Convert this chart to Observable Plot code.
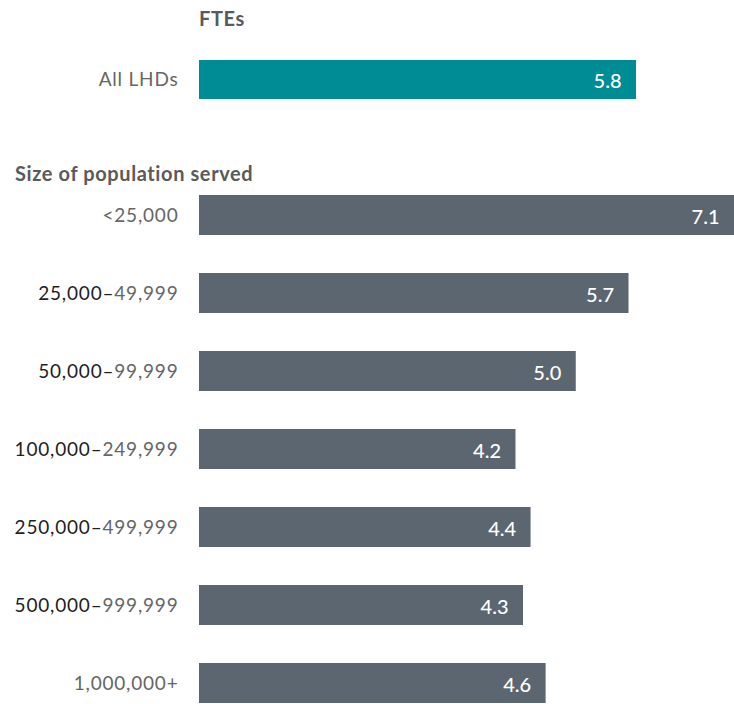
<!DOCTYPE html>
<html>
<head>
<meta charset="utf-8">
<script src="https://cdn.jsdelivr.net/npm/d3@7"></script>
<script src="https://cdn.jsdelivr.net/npm/@observablehq/plot@0.6"></script>
<style>
  body { margin: 0; background: #fff; font-family: Lato, "Open Sans", sans-serif; }
  #chart { width: 734px; position: relative; }
  .hdr { font-weight: 700; font-size: 20px; letter-spacing: 0.6px; color: #5a5a5a; height: 40px; line-height: 40px; white-space: nowrap; }
  svg { display: block; overflow: visible; }
  g[aria-label="y-axis tick label"] text { letter-spacing: 0.8px; }
</style>
</head>
<body>
<div id="chart"></div>
<script>
// ---- data ----
const overallHeader = "FTEs";
const overallCategories = ["All LHDs"];
const overallValues = [5.8];

const sizeHeader = "Size of population served";
const sizeCategories = ["<25,000", "25,000–49,999", "50,000–99,999", "100,000–249,999", "250,000–499,999", "500,000–999,999", "1,000,000+"];
const sizeValues = [7.1, 5.7, 5.0, 4.2, 4.4, 4.3, 4.6];

const xMax = 7.1;

// ---- styles ----
const teal = "#008C95";
const slate = "#5C6670";
const labelGrey = "#666666";
const labelDark = "#1f1f1f";

const overall = overallCategories.map((c, i) => ({group: c, value: overallValues[i]}));
const sizes = sizeCategories.map((c, i) => ({group: c, value: sizeValues[i]}));

function barPlot(data, domain, color, opts) {
  return Plot.plot({
    width: 734,
    height: opts.height,
    marginLeft: 199,
    marginRight: 0,
    marginTop: opts.marginTop,
    marginBottom: opts.marginBottom,
    style: {fontFamily: "Lato, 'Open Sans', sans-serif", fontSize: "19px", background: "white", color: labelGrey},
    x: {domain: [0, xMax], axis: null},
    y: {domain, paddingInner: opts.paddingInner, paddingOuter: 0, label: null},
    marks: [
      Plot.axisY({tickSize: 0, tickPadding: 21, fill: labelGrey, fontSize: 19, label: null}),
      Plot.barX(data, {x: "value", y: "group", fill: color}),
      Plot.text(data, {x: "value", y: "group", text: d => d.value.toFixed(1), textAnchor: "end", dx: -15, dy: 2, fill: "white", fontSize: 20, fontWeight: 500})
    ]
  });
}

function colorRangeLabels(svg) {
  svg.querySelectorAll('g[aria-label="y-axis tick label"] text').forEach(t => {
    const s = t.textContent;
    const k = s.indexOf("–");
    if (k > 0) {
      t.textContent = "";
      const a = document.createElementNS("http://www.w3.org/2000/svg", "tspan");
      a.textContent = s.slice(0, k + 1);
      a.setAttribute("fill", labelDark);
      const b = document.createElementNS("http://www.w3.org/2000/svg", "tspan");
      b.textContent = s.slice(k + 1);
      b.setAttribute("fill", labelGrey);
      t.append(a, b);
    }
  });
}

const chart = document.getElementById("chart");

const h1 = document.createElement("div");
h1.className = "hdr";
h1.style.paddingLeft = "199px";
h1.style.height = "36px";
h1.style.lineHeight = "36px";
h1.textContent = overallHeader;
chart.append(h1);

const p1 = barPlot(overall, overallCategories, teal, {height: 84, marginTop: 24, marginBottom: 21, paddingInner: 0});
chart.append(p1);

const h2 = document.createElement("div");
h2.className = "hdr";
h2.style.paddingLeft = "15px";
h2.style.marginTop = "33px";
h2.textContent = sizeHeader;
chart.append(h2);

const p2 = barPlot(sizes, sizeCategories, slate, {height: 511, marginTop: 2, marginBottom: 1, paddingInner: 0.49});
colorRangeLabels(p2);
chart.append(p2);
</script>
</body>
</html>
